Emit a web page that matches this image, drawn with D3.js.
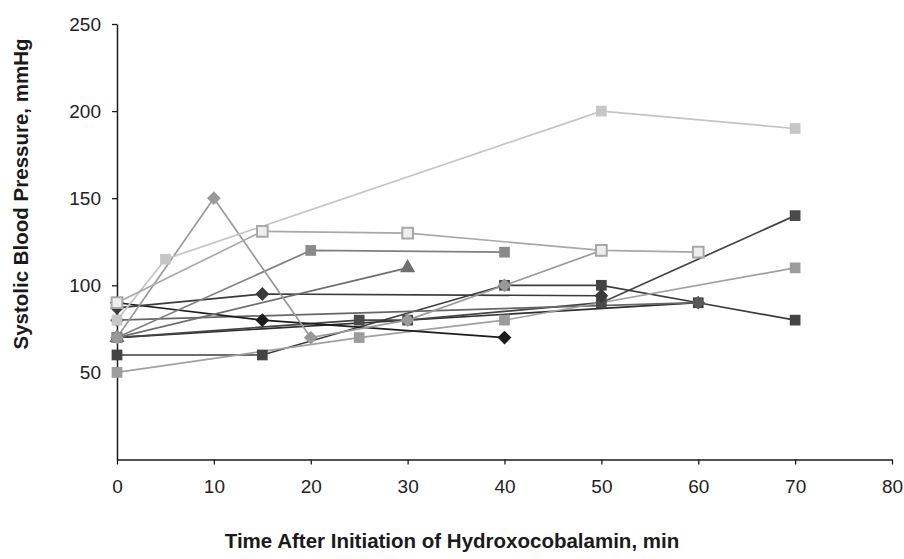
<!DOCTYPE html>
<html>
<head>
<meta charset="utf-8">
<script src="https://cdn.jsdelivr.net/npm/d3@7"></script>
<style>
body { margin: 0; background: #fff; }
svg { display: block; font-family: "Liberation Sans", Arial, sans-serif; }
</style>
</head>
<body>
<svg id="chart" width="904" height="559"></svg>
<script>
// time (min) and systolic BP (mmHg) for each patient
var timeA = [0, 5, 50, 70],            bpA = [80, 115, 200, 190]
var timeB = [0, 15, 30, 50, 60],       bpB = [90, 131, 130, 120, 119]
var timeC = [0, 10, 20, 30, 40, 50],   bpC = [70, 150, 70, 80, 100, 120]
var timeD = [0, 20, 40],               bpD = [70, 120, 119]
var timeE = [0, 30],                   bpE = [70, 110]
var timeF = [0, 15, 50],               bpF = [87, 95, 94]
var timeG = [0, 15, 40],               bpG = [90, 80, 70]
var timeH = [0, 15, 40, 50, 60, 70],   bpH = [60, 60, 100, 100, 90, 80]
var timeI = [0, 25, 40, 70],           bpI = [50, 70, 80, 110]
var timeJ = [0, 25, 30, 50, 70],       bpJ = [70, 80, 80, 90, 140]
var timeK = [0, 60],                   bpK = [80, 90]
var timeL = [0, 60],                   bpL = [70, 90]

var xTicks = [0, 10, 20, 30, 40, 50, 60, 70, 80]
var yTicks = [50, 100, 150, 200, 250]

function pts(t, v) { return t.map(function (d, i) { return [d, v[i]] }) }

// drawn in this order so the light markers sit on top like in the original
var series = [
  { p: pts(timeL, bpL), line: "#2e2e2e", fill: "#2e2e2e", stroke: "none", shape: "none" },
  { p: pts(timeJ, bpJ), line: "#444", fill: "#4a4a4a", stroke: "none", shape: "square" },
  { p: pts(timeH, bpH), line: "#3c3c3c", fill: "#444", stroke: "none", shape: "square" },
  { p: pts(timeK, bpK), line: "#666", fill: "#5a5a5a", stroke: "none", shape: "diamond" },
  { p: pts(timeI, bpI), line: "#a0a0a0", fill: "#9c9c9c", stroke: "none", shape: "square" },
  { p: pts(timeG, bpG), line: "#1c1c1c", fill: "#1c1c1c", stroke: "none", shape: "diamond" },
  { p: pts(timeF, bpF), line: "#3a3a3a", fill: "#3a3a3a", stroke: "none", shape: "diamond" },
  { p: pts(timeE, bpE), line: "#6e6e6e", fill: "#707070", stroke: "none", shape: "triangle" },
  { p: pts(timeD, bpD), line: "#808080", fill: "#8a8a8a", stroke: "none", shape: "square" },
  { p: pts(timeC, bpC), line: "#9a9a9a", fill: "#999", stroke: "none", shape: "diamond" },
  { p: pts(timeA, bpA), line: "#c4c4c4", fill: "#c6c6c6", stroke: "none", shape: "square" },
  { p: pts(timeB, bpB), line: "#a8a8a8", fill: "#eeeeee", stroke: "#a8a8a8", shape: "square" }
]

var svg = d3.select("#chart")
var x = d3.scaleLinear().domain([0, 80]).range([117, 892])
var y = d3.scaleLinear().domain([0, 250]).range([459.5, 24])

svg.append("g")
  .attr("transform", "translate(0," + y(0) + ")")
  .call(d3.axisBottom(x).tickValues(xTicks).tickSize(5).tickSizeOuter(0).tickPadding(15))
svg.append("g")
  .attr("transform", "translate(" + x(0) + ",0)")
  .call(d3.axisLeft(y).tickValues(yTicks).tickSize(5).tickSizeOuter(0).tickPadding(11))

svg.selectAll(".domain").attr("stroke", "#1a1a1a").attr("stroke-width", 1.5)
svg.selectAll(".tick line").attr("stroke", "#1a1a1a").attr("stroke-width", 1.3)
svg.selectAll(".tick text").attr("fill", "#222").style("font-size", "19px")

var line = d3.line().x(function (d) { return x(d[0]) }).y(function (d) { return y(d[1]) })

var sq = d3.symbol().type(d3.symbolSquare).size(115)
var dia = d3.symbol().type(d3.symbolSquare).size(95)
var tri = d3.symbol().type(d3.symbolTriangle).size(100)

series.forEach(function (s) {
  svg.append("path").datum(s.p)
    .attr("d", line)
    .attr("fill", "none")
    .attr("stroke", s.line)
    .attr("stroke-width", 1.7)
})

series.forEach(function (s) {
  if (s.shape == "none") return
  svg.selectAll(null).data(s.p).enter().append("path")
    .attr("d", s.shape == "triangle" ? tri() : s.shape == "diamond" ? dia() : sq())
    .attr("transform", function (d) {
      return "translate(" + x(d[0]) + "," + y(d[1]) + ")" + (s.shape == "diamond" ? " rotate(45)" : "")
    })
    .attr("fill", s.fill)
    .attr("stroke", s.stroke)
    .attr("stroke-width", s.stroke == "none" ? 0 : 2)
})

svg.append("text")
  .attr("transform", "translate(28,194) rotate(-90)")
  .attr("text-anchor", "middle")
  .attr("font-weight", "bold")
  .attr("font-size", 20.5)
  .attr("fill", "#1a1a1a")
  .text("Systolic Blood Pressure, mmHg")

svg.append("text")
  .attr("x", 452)
  .attr("y", 548)
  .attr("text-anchor", "middle")
  .attr("font-weight", "bold")
  .attr("font-size", 20.5)
  .attr("fill", "#1a1a1a")
  .text("Time After Initiation of Hydroxocobalamin, min")
</script>
</body>
</html>
